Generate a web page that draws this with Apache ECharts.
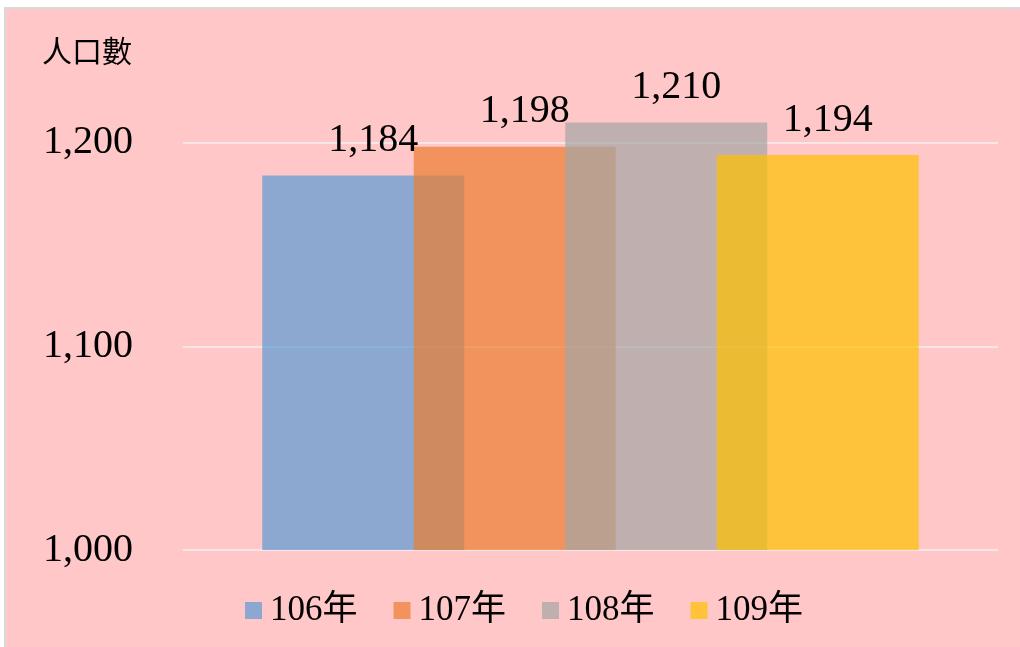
<!DOCTYPE html>
<html>
<head>
<meta charset="utf-8">
<script src="https://cdn.jsdelivr.net/npm/echarts@6/dist/echarts.min.js"></script>
<style>
html,body{margin:0;padding:0;background:#ffffff;}
#main{width:1020px;height:647px;}
</style>
</head>
<body>
<div id="main"></div>
<script>
var seriesNames = ['106年', '107年', '108年', '109年'];
var seriesValues = [1184, 1198, 1210, 1194];
var seriesColors = ['rgba(91,155,213,0.7)', 'rgba(237,125,49,0.7)', 'rgba(165,165,165,0.7)', 'rgba(255,192,0,0.7)'];
var yTicks = [1000, 1100, 1200];
var yAxisTitle = '人口數';

var numFont = '"Liberation Serif", "Noto Sans CJK TC", serif';

function fmt(v) {
  return String(v).replace(/\B(?=(\d{3})+(?!\d))/g, ',');
}

var chart = echarts.init(document.getElementById('main'));
var series = seriesNames.map(function (name, i) {
  return {
    name: name,
    type: 'bar',
    data: [seriesValues[i]],
    barWidth: 202,
    barGap: '-25%',
    itemStyle: { color: seriesColors[i] },
    label: {
      show: true,
      position: 'top',
      distance: 15,
      offset: [10, 0],
      formatter: function (p) { return fmt(p.value); },
      fontFamily: numFont,
      fontSize: 40,
      color: '#000000'
    },
    emphasis: { disabled: true }
  };
});

chart.setOption({
  backgroundColor: '#ffffff',
  animation: false,
  graphic: [{
    type: 'rect',
    z: -100,
    silent: true,
    shape: { x: 5, y: 8, width: 1030, height: 660 },
    style: { fill: '#FFC7C7', stroke: '#D9D9D9', lineWidth: 2 }
  }],
  title: {
    text: yAxisTitle,
    left: 37,
    top: 31,
    textStyle: { fontFamily: '"Noto Sans CJK TC", serif', fontSize: 30, fontWeight: 'normal', color: '#000000' }
  },
  legend: {
    data: seriesNames,
    bottom: 14,
    left: 240,
    itemWidth: 17,
    itemHeight: 17,
    itemGap: 36,
    icon: 'rect',
    textStyle: { fontFamily: numFont, fontSize: 35, color: '#000000', padding: [0, 0, 0, 3] }
  },
  grid: { left: 183, right: 22, top: 41, bottom: 97, containLabel: false },
  xAxis: {
    type: 'category',
    data: [''],
    axisLine: { show: false },
    axisTick: { show: false },
    axisLabel: { show: false }
  },
  yAxis: {
    type: 'value',
    min: 1000,
    max: 1250,
    interval: 100,
    axisLine: { show: false },
    axisTick: { show: false },
    axisLabel: {
      showMaxLabel: false,
      margin: 50,
      fontFamily: numFont,
      fontSize: 40,
      color: '#000000',
      formatter: function (v) { return yTicks.indexOf(v) >= 0 ? fmt(v) : ''; }
    },
    splitLine: { show: true, showMaxLine: false, lineStyle: { color: '#F2F2F2', width: 1.5 } }
  },
  series: series
});
</script>
</body>
</html>
